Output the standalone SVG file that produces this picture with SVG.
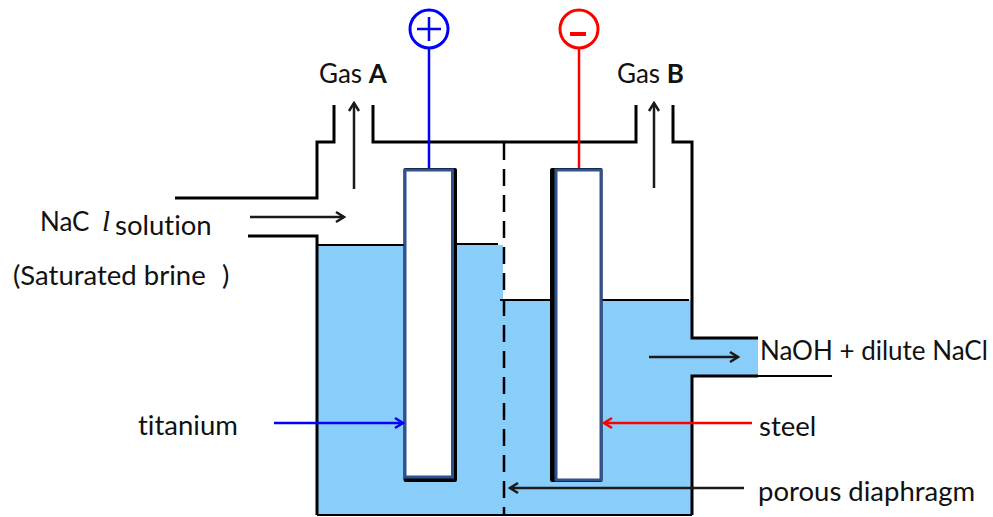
<svg xmlns="http://www.w3.org/2000/svg" width="993" height="517" viewBox="0 0 993 517">
<style>
text{font-family:Lato,"Open Sans",sans-serif;font-size:27.500px;fill:#111;font-variant-ligatures:none}
.g{font-size:26px}
.w{fill:none;stroke:#000;stroke-width:3}
.t{fill:none;stroke:#000;stroke-width:2}
.a{fill:none;stroke:#1a1a1a;stroke-width:2.500}
.e{fill:#fff;stroke:#2f528f;stroke-width:3}
</style>
<defs>
<marker id="mk" markerUnits="userSpaceOnUse" markerWidth="14" markerHeight="14" refX="12" refY="7" orient="auto"><path d="M4 2L12 7L4 12" fill="none" stroke="#1a1a1a" stroke-width="2.500"/></marker>
<marker id="mb" markerUnits="userSpaceOnUse" markerWidth="14" markerHeight="14" refX="12" refY="7" orient="auto"><path d="M4 2L12 7L4 12" fill="none" stroke="#00f" stroke-width="2.500"/></marker>
<marker id="mr" markerUnits="userSpaceOnUse" markerWidth="14" markerHeight="14" refX="12" refY="7" orient="auto"><path d="M4 2L12 7L4 12" fill="none" stroke="#f00" stroke-width="2.500"/></marker>
</defs>
<g id="brine"><path d="M318 245H503V515H318Z" fill="#89cdfa"/><path d="M503 300H692V338H758V376H692V515H503Z" fill="#89cdfa"/>
<path d="M318 245H404M455 244H498M500 300H551M602 300H689" class="t"/></g>
<g id="tank"><path class="w" d="M175 198H317V142H334V105M373 105V142H636V105M673 105V142H692V338H758"/>
<path class="w" d="M248 236H317V515M692 515V376H758"/><path class="t" d="M317 515H692M758 376H832"/></g>
<g id="diaphragm"><path d="M504 143V515" fill="none" stroke="#000" stroke-width="2.500" stroke-dasharray="17 9"/></g>
<g id="anode"><path d="M429 48V168" stroke="#00f" stroke-width="2.500" fill="none"/><circle cx="429" cy="29" r="19" fill="#fff" stroke="#00f" stroke-width="3"/><path d="M417 29H441M429 17V41" stroke="#00f" stroke-width="2.500"/>
<rect x="403.500" y="168" width="53.500" height="314" rx="2" fill="#000"/><rect x="405" y="170" width="47.500" height="307" class="e"/></g>
<g id="cathode"><path d="M579 48V168" stroke="#f00" stroke-width="2.500" fill="none"/><circle cx="579" cy="29" r="19" fill="#fff" stroke="#f00" stroke-width="3"/><path d="M570 34H586" stroke="#f00" stroke-width="4"/>
<rect x="550" y="168" width="52.500" height="314" rx="2" fill="#000"/><rect x="556" y="170" width="45" height="310" class="e"/></g>
<g id="connectors">
<path class="a" marker-end="url(#mk)" d="M354 189V103"/><path class="a" marker-end="url(#mk)" d="M654 188V103"/>
<path class="a" marker-end="url(#mk)" d="M250 217H344"/><path class="a" marker-end="url(#mk)" d="M649 357H738"/>
<path d="M274 423H403" fill="none" stroke="#00f" stroke-width="2.500" marker-end="url(#mb)"/>
<path d="M752 423H604" fill="none" stroke="#f00" stroke-width="2.500" marker-end="url(#mr)"/>
<path class="a" marker-end="url(#mk)" d="M744 488H510"/>
</g>
<g id="labels">
<text x="319" y="83" class="g">Gas <tspan font-weight="700">A</tspan></text>
<text x="617" y="83" class="g">Gas <tspan font-weight="700">B</tspan></text>
<text x="40" y="231" class="g">NaC</text>
<text x="102" y="231" style="font-family:'Liberation Serif',serif;font-style:italic;font-size:29px">l</text>
<text x="115" y="235">solution</text>
<text x="13" y="285">(Saturated brine</text><text x="222" y="285">)</text>
<text x="138" y="435">titanium</text>
<text x="759" y="436">steel</text>
<text x="758" y="501">porous diaphragm</text>
<text x="760" y="360" class="g">NaOH + dilute NaCl</text>
</g>
</svg>
